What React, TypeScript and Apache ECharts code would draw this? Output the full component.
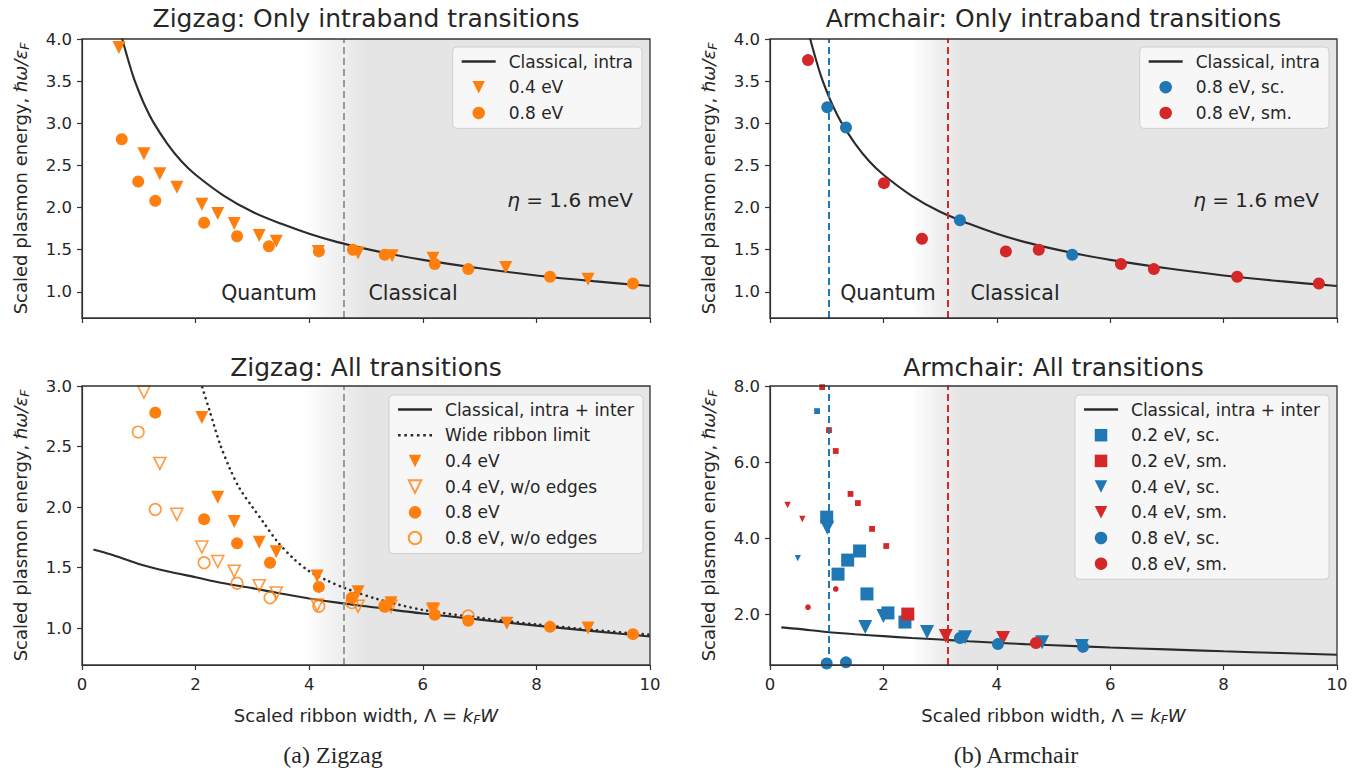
import React, { useEffect, useRef } from "react";
import * as echarts from "echarts";

// ---------------- data ----------------
const xTicks = [0, 2, 4, 6, 8, 10];
const yTicksTop = [1.0, 1.5, 2.0, 2.5, 3.0, 3.5, 4.0];
const yTicksBL = [1.0, 1.5, 2.0, 2.5, 3.0];
const yTicksBR = [2.0, 4.0, 6.0, 8.0];

// classical intraband curve (top panels)
const classicalIntra: [number, number][] = [
  [0.7, 4.02], [0.75, 3.9], [0.8, 3.78], [0.9, 3.56], [1.0, 3.38], [1.1, 3.22], [1.25, 3.02],
  [1.5, 2.76], [1.75, 2.55], [2.0, 2.39], [2.5, 2.14], [3.0, 1.95], [3.5, 1.81], [4.0, 1.69],
  [4.5, 1.59], [5.0, 1.51], [5.5, 1.44], [6.0, 1.38], [7.0, 1.28], [8.0, 1.195], [9.0, 1.127], [10.0, 1.069],
];
// classical intra + inter curve (bottom panels)
const classicalAll: [number, number][] = [
  [0.2, 1.65], [0.5, 1.61], [1.0, 1.53], [1.5, 1.47], [2.0, 1.42], [2.5, 1.37], [3.0, 1.33],
  [3.5, 1.285], [4.0, 1.245], [4.5, 1.21], [5.0, 1.18], [6.0, 1.12], [7.0, 1.07], [8.0, 1.02],
  [9.0, 0.975], [10.0, 0.93],
];
// wide ribbon limit (bottom-left, dotted)
const wideRibbon: [number, number][] = [
  [2.06, 3.08], [2.11, 3.0], [2.25, 2.79], [2.43, 2.52], [2.61, 2.31], [2.78, 2.15], [3.0, 2.0],
  [3.2, 1.87], [3.43, 1.72], [3.71, 1.58], [4.0, 1.47], [4.33, 1.39], [4.63, 1.33], [5.2, 1.24],
  [6.0, 1.15], [7.0, 1.085], [8.0, 1.03], [9.0, 0.985], [10.0, 0.945],
];

// zigzag, intraband only
const zzIntra04: [number, number][] = [
  [0.65, 3.9], [1.09, 2.64], [1.37, 2.4], [1.67, 2.24], [2.11, 2.04], [2.39, 1.93], [2.68, 1.81],
  [3.12, 1.67], [3.42, 1.6], [4.16, 1.48], [4.86, 1.46], [5.46, 1.43], [6.18, 1.4], [7.46, 1.29], [8.91, 1.15],
];
const zzIntra08: [number, number][] = [
  [0.7, 2.81], [0.99, 2.31], [1.29, 2.08], [2.15, 1.82], [2.73, 1.66], [3.29, 1.54], [4.17, 1.48],
  [4.77, 1.5], [5.33, 1.44], [6.21, 1.33], [6.8, 1.27], [8.24, 1.18], [9.7, 1.1],
];

// armchair, intraband only
const acIntraSc: [number, number][] = [[1.01, 3.19], [1.34, 2.95], [3.35, 1.85], [5.33, 1.44]];
const acIntraSm: [number, number][] = [
  [0.67, 3.75], [2.01, 2.29], [2.68, 1.63], [4.16, 1.48], [4.74, 1.5], [6.19, 1.33], [6.77, 1.27],
  [8.24, 1.18], [9.68, 1.1],
];

// zigzag, all transitions
const zzAll04: [number, number][] = [
  [2.11, 2.74], [2.39, 2.08], [2.68, 1.88], [3.12, 1.71], [3.42, 1.63], [4.14, 1.43], [4.86, 1.3],
  [5.44, 1.21], [6.18, 1.16], [7.48, 1.04], [8.91, 1.0],
];
const zzAll04NoEdge: [number, number][] = [
  [1.09, 2.95], [1.37, 2.36], [1.67, 1.94], [2.11, 1.67], [2.39, 1.55], [2.68, 1.47], [3.12, 1.35],
  [3.42, 1.29], [4.14, 1.19], [4.86, 1.18], [5.44, 1.18], [6.18, 1.15],
];
const zzAll08: [number, number][] = [
  [1.29, 2.78], [2.15, 1.9], [2.73, 1.7], [3.31, 1.54], [4.17, 1.34], [4.75, 1.25], [5.33, 1.18],
  [6.21, 1.11], [6.8, 1.06], [8.24, 1.01], [9.7, 0.95],
];
const zzAll08NoEdge: [number, number][] = [
  [0.99, 2.62], [1.29, 1.98], [2.15, 1.54], [2.73, 1.37], [3.31, 1.25], [4.17, 1.18], [4.75, 1.21],
  [5.33, 1.18], [6.8, 1.1],
];

// armchair, all transitions: [width, energy, relative strength]
const ac02sc: [number, number, number][] = [
  [0.83, 7.34, 0.1], [1.0, 4.55, 1], [1.2, 3.05, 1], [1.37, 3.42, 1], [1.58, 3.66, 1], [1.71, 2.53, 1],
  [2.08, 2.03, 1], [2.38, 1.79, 1],
];
const ac02sm: [number, number, number][] = [
  [0.92, 7.97, 0.1], [1.04, 6.84, 0.1], [1.16, 6.29, 0.1], [1.42, 5.16, 0.1], [1.55, 4.92, 0.1],
  [1.8, 4.24, 0.1], [2.05, 3.79, 0.1], [2.43, 2.0, 1],
];
const ac04sc: [number, number, number][] = [
  [0.49, 3.47, 0.1], [1.01, 4.27, 1], [1.68, 1.66, 1], [2.0, 1.95, 1], [2.77, 1.53, 1], [3.44, 1.39, 1],
  [4.8, 1.26, 1], [5.5, 1.16, 1],
];
const ac04sm: [number, number, number][] = [
  [0.31, 4.87, 0.1], [0.57, 4.5, 0.1], [3.1, 1.42, 1], [4.11, 1.37, 1],
];
const ac08sc: [number, number, number][] = [
  [1.0, 0.7, 1], [1.34, 0.73, 1], [3.35, 1.37, 1], [4.02, 1.21, 1], [5.52, 1.14, 1],
];
const ac08sm: [number, number, number][] = [
  [0.67, 2.18, 0.1], [1.16, 2.66, 0.1], [4.69, 1.24, 1],
];

// boundaries between quantum and classical regimes
const zzBoundary = 4.6;
const acBoundarySc = 1.04;
const acBoundarySm = 3.14;

// ---------------- styling ----------------
const ORANGE = "#ff7f0e";
const BLUE = "#1f77b4";
const RED = "#d62728";
const DARK = "#2b2b2b";
const TXT = "#262626";
const FONT = "DejaVu Sans";
const GRAY = "229,229,229";

const ICON_LINE = "path://M0,0h34v2.4h-34z";
const ICON_DOT =
  "path://M0,0h2.6v2.6h-2.6z M6.3,0h2.6v2.6h-2.6z M12.6,0h2.6v2.6h-2.6z M18.9,0h2.6v2.6h-2.6z M25.2,0h2.6v2.6h-2.6z M31.4,0h2.6v2.6h-2.6z";
const ICON_TRI = "path://M0,0L10,0L5,10Z";
const ICON_SQ = "path://M0,0h10v10h-10z";

const grids = [
  { left: 82, top: 39, width: 568, height: 279 },
  { left: 770, top: 39, width: 567, height: 279 },
  { left: 82, top: 386, width: 568, height: 279 },
  { left: 770, top: 386, width: 567, height: 279 },
];

function shade(from: number, full: number) {
  const f = (full - from) / (10 - from);
  return {
    silent: true,
    itemStyle: {
      color: {
        type: "linear", x: 0, y: 0, x2: 1, y2: 0,
        colorStops: [
          { offset: 0, color: `rgba(${GRAY},0)` },
          { offset: f * 0.5, color: `rgba(${GRAY},0.55)` },
          { offset: f, color: `rgba(${GRAY},1)` },
          { offset: 1, color: `rgba(${GRAY},1)` },
        ],
      },
    },
    data: [[{ xAxis: from }, { xAxis: 10 }]],
  };
}

function vlines(items: { x: number; color: string }[]) {
  return {
    silent: true,
    symbol: ["none", "none"],
    label: { show: false },
    lineStyle: { width: 2, type: [7, 4] },
    data: items.map((it) => ({ xAxis: it.x, lineStyle: { color: it.color, width: 2, type: [7, 4] } })),
  };
}

const sizeOf = (v: number[]) => 5 + 8 * v[2];

const richName = {
  i: { fontSize: 18, fontFamily: FONT, fontStyle: "italic", color: TXT },
  s: { fontSize: 12.5, fontFamily: FONT, fontStyle: "italic", color: TXT, padding: [9, 0, 0, 0] },
};

function xAxisCfg(i: number, labels: boolean) {
  return {
    type: "value",
    gridIndex: i,
    min: 0,
    max: 10,
    interval: 2,
    axisLine: { show: true, lineStyle: { color: "#333", width: 1.2 } },
    axisTick: { show: true, length: 5, lineStyle: { color: "#333", width: 1.2 } },
    splitLine: { show: false },
    axisLabel: {
      show: labels,
      margin: 11,
      fontSize: 16.5,
      fontFamily: FONT,
      color: TXT,
      customValues: xTicks,
    },
    name: labels ? "Scaled ribbon width, Λ = {i|k}{s|F}{i|W}" : "",
    nameLocation: "middle",
    nameGap: 39,
    nameTextStyle: { fontSize: 18, fontFamily: FONT, color: TXT, rich: richName },
  };
}

function yAxisCfg(i: number, min: number, max: number, ticks: number[]) {
  return {
    type: "value",
    gridIndex: i,
    min,
    max,
    axisLine: { show: true, lineStyle: { color: "#333", width: 1.2 } },
    axisTick: { show: true, length: 5, lineStyle: { color: "#333", width: 1.2 }, customValues: ticks },
    splitLine: { show: false },
    axisLabel: {
      margin: 10,
      fontSize: 16.5,
      fontFamily: FONT,
      color: TXT,
      customValues: ticks,
      formatter: (v: number) => v.toFixed(1),
    },
    name: "Scaled plasmon energy, {i|ℏω/ε}{s|F}",
    nameLocation: "middle",
    nameGap: 51,
    nameTextStyle: { fontSize: 18, fontFamily: FONT, color: TXT, rich: richName },
  };
}

function legendCfg(right: number, top: number, data: { name: string; icon: string }[]) {
  return {
    orient: "vertical",
    right,
    top,
    align: "left",
    data,
    itemWidth: 34,
    itemHeight: 12.5,
    itemGap: 8.7,
    symbolKeepAspect: true,
    padding: [6, 9, 7, 9],
    backgroundColor: "rgba(250,250,250,0.85)",
    borderColor: "#cfcfcf",
    borderWidth: 1,
    borderRadius: 4,
    selectedMode: false,
    textStyle: { fontSize: 17, fontFamily: FONT, color: TXT, padding: [0, 0, 0, 8] },
  };
}

function lineSeries(name: string, data: [number, number][], idx: number, extra: any = {}) {
  return {
    type: "line",
    name,
    data,
    xAxisIndex: idx,
    yAxisIndex: idx,
    symbol: "none",
    showSymbol: false,
    smooth: 0.3,
    lineStyle: { color: DARK, width: 2.1 },
    itemStyle: { color: DARK },
    z: 2,
    ...extra,
  };
}

function scatter(name: string, data: any[], idx: number, symbol: string, color: string, size: any, hollow = false) {
  return {
    type: "scatter",
    name,
    data,
    xAxisIndex: idx,
    yAxisIndex: idx,
    symbol,
    symbolRotate: symbol === "triangle" ? 180 : 0,
    symbolSize: size,
    itemStyle: hollow
      ? { color: "rgba(255,255,255,0)", borderColor: color, borderWidth: 1.6 }
      : { color, opacity: 1 },
    z: 3,
  };
}

function text(x: number, y: number, t: string, size: number, align = "center", extra: any = {}) {
  return {
    type: "text",
    x,
    y,
    z: 50,
    style: {
      text: t,
      fontSize: size,
      fontFamily: FONT,
      fill: TXT,
      textAlign: align,
      textVerticalAlign: "middle",
      ...extra,
    },
  };
}

function buildOption() {
  const series: any[] = [
    // panel 0: zigzag intra
    lineSeries("Classical, intra", classicalIntra, 0, {
      markArea: shade(3.9, 5.0),
      markLine: vlines([{ x: zzBoundary, color: "#9a9a9a" }]),
    }),
    scatter("0.4 eV", zzIntra04, 0, "triangle", ORANGE, 13),
    scatter("0.8 eV", zzIntra08, 0, "circle", ORANGE, 12),
    // panel 1: armchair intra
    lineSeries("Classical, intra", classicalIntra, 1, {
      markArea: shade(2.5, 3.35),
      markLine: vlines([{ x: acBoundarySc, color: BLUE }, { x: acBoundarySm, color: RED }]),
    }),
    scatter("0.8 eV, sc.", acIntraSc, 1, "circle", BLUE, 12),
    scatter("0.8 eV, sm.", acIntraSm, 1, "circle", RED, 12),
    // panel 2: zigzag all
    lineSeries("Classical, intra + inter", classicalAll, 2, {
      markArea: shade(3.9, 5.0),
      markLine: vlines([{ x: zzBoundary, color: "#9a9a9a" }]),
    }),
    lineSeries("Wide ribbon limit", wideRibbon, 2, {
      lineStyle: { color: DARK, width: 2.6, type: [0.1, 5.6], cap: "round" },
    }),
    scatter("0.4 eV", zzAll04, 2, "triangle", ORANGE, 13),
    scatter("0.4 eV, w/o edges", zzAll04NoEdge, 2, "triangle", ORANGE, 12, true),
    scatter("0.8 eV", zzAll08, 2, "circle", ORANGE, 12),
    scatter("0.8 eV, w/o edges", zzAll08NoEdge, 2, "circle", ORANGE, 11.5, true),
    // panel 3: armchair all
    lineSeries("Classical, intra + inter", classicalAll, 3, {
      markArea: shade(2.5, 3.35),
      markLine: vlines([{ x: acBoundarySc, color: BLUE }, { x: acBoundarySm, color: RED }]),
    }),
    scatter("0.2 eV, sc.", ac02sc, 3, "rect", BLUE, sizeOf),
    scatter("0.2 eV, sm.", ac02sm, 3, "rect", RED, sizeOf),
    scatter("0.4 eV, sc.", ac04sc, 3, "triangle", BLUE, (v: number[]) => 5.5 + 8.5 * v[2]),
    scatter("0.4 eV, sm.", ac04sm, 3, "triangle", RED, (v: number[]) => 5.5 + 8.5 * v[2]),
    scatter("0.8 eV, sc.", ac08sc, 3, "circle", BLUE, (v: number[]) => 5 + 7 * v[2]),
    scatter("0.8 eV, sm.", ac08sm, 3, "circle", RED, (v: number[]) => 5 + 7 * v[2]),
  ];

  const frames = grids.map((g) => ({
    type: "rect",
    z: 60,
    silent: true,
    shape: { x: g.left, y: g.top, width: g.width, height: g.height },
    style: { fill: "none", stroke: "#333", lineWidth: 1.3 },
  }));

  const eta = (x: number) =>
    text(x, 200, "{i|η} = 1.6 meV", 20, "right", {
      rich: { i: { fontStyle: "italic", fontSize: 20, fontFamily: FONT, fill: TXT } },
    });

  const graphic: any[] = [
    ...frames,
    text(366, 18, "Zigzag: Only intraband transitions", 25),
    text(1053.5, 18, "Armchair: Only intraband transitions", 25),
    text(366, 367, "Zigzag: All transitions", 25),
    text(1053.5, 367, "Armchair: All transitions", 25),
    text(269, 293, "Quantum", 20.5),
    text(413, 293, "Classical", 20.5),
    text(888, 293, "Quantum", 20.5),
    text(1015, 293, "Classical", 20.5),
    eta(633),
    eta(1319),
    text(333, 755, "(a) Zigzag", 24, "center", { fontFamily: "Liberation Serif" }),
    text(1016, 755, "(b) Armchair", 24, "center", { fontFamily: "Liberation Serif" }),
  ];

  const L = (name: string, icon: string) => ({ name, icon });

  return {
    animation: false,
    backgroundColor: "#ffffff",
    grid: grids.map((g) => ({ ...g, containLabel: false })),
    xAxis: [xAxisCfg(0, false), xAxisCfg(1, false), xAxisCfg(2, true), xAxisCfg(3, true)],
    yAxis: [
      yAxisCfg(0, 0.69, 4.0, yTicksTop),
      yAxisCfg(1, 0.69, 4.0, yTicksTop),
      yAxisCfg(2, 0.695, 3.0, yTicksBL),
      yAxisCfg(3, 0.66, 8.0, yTicksBR),
    ],
    legend: [
      legendCfg(1366 - 642, 47, [L("Classical, intra", ICON_LINE), L("0.4 eV", ICON_TRI), L("0.8 eV", "circle")]),
      legendCfg(1366 - 1329, 47, [
        L("Classical, intra", ICON_LINE), L("0.8 eV, sc.", "circle"), L("0.8 eV, sm.", "circle"),
      ]),
      legendCfg(1366 - 643, 395, [
        L("Classical, intra + inter", ICON_LINE), L("Wide ribbon limit", ICON_DOT), L("0.4 eV", ICON_TRI),
        L("0.4 eV, w/o edges", ICON_TRI), L("0.8 eV", "circle"), L("0.8 eV, w/o edges", "circle"),
      ]),
      legendCfg(1366 - 1329, 395, [
        L("Classical, intra + inter", ICON_LINE), L("0.2 eV, sc.", ICON_SQ), L("0.2 eV, sm.", ICON_SQ),
        L("0.4 eV, sc.", ICON_TRI), L("0.4 eV, sm.", ICON_TRI), L("0.8 eV, sc.", "circle"), L("0.8 eV, sm.", "circle"),
      ]),
    ],
    series,
    graphic,
  };
}

export default function App() {
  const ref = useRef<HTMLDivElement>(null);
  useEffect(() => {
    if (!ref.current) return;
    const chart = echarts.init(ref.current, undefined, { renderer: "svg" });
    chart.setOption(buildOption() as any);
    return () => chart.dispose();
  }, []);
  return (
    <div
      ref={ref}
      style={{ position: "fixed", left: 0, top: 0, width: 1366, height: 772, background: "#fff" }}
    />
  );
}
